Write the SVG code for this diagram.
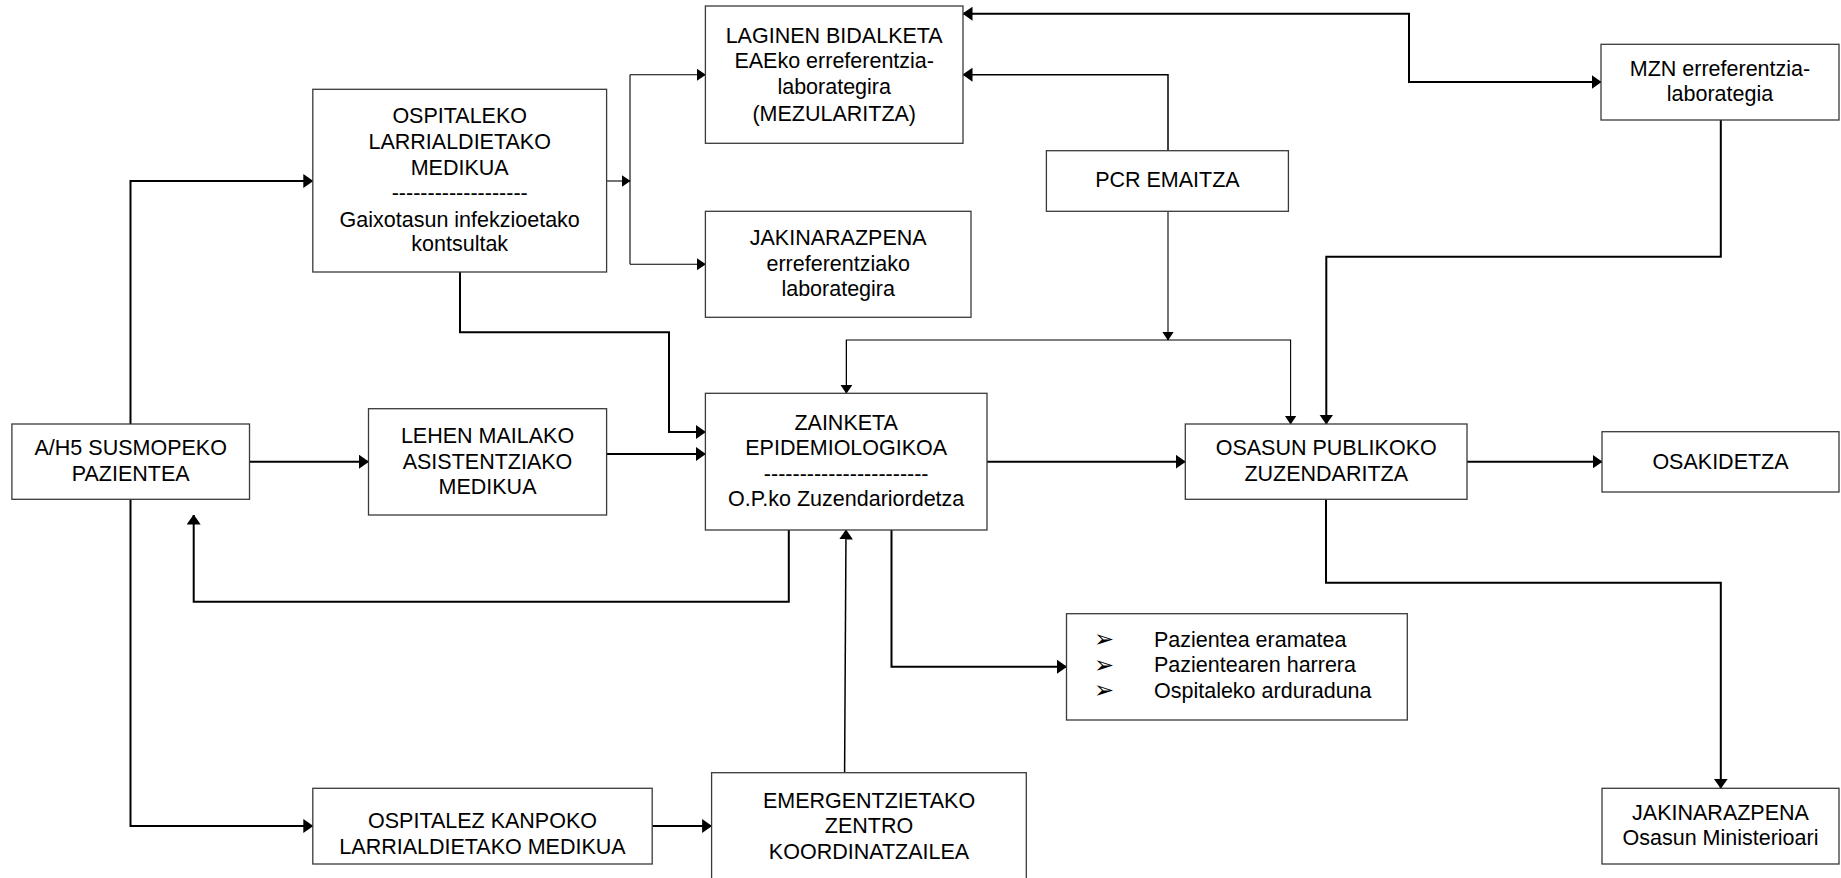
<svg xmlns="http://www.w3.org/2000/svg" width="1841" height="878" viewBox="0 0 1841 878">
<style>
.box{fill:#fff;stroke:#3a3a3a;stroke-width:1.3}
.t{font-family:"Liberation Sans",Arial,sans-serif;font-size:21.5px;fill:#000;text-anchor:middle}
.tl{font-family:"Liberation Sans",Arial,sans-serif;font-size:21.5px;fill:#000}
.bul{font-family:"DejaVu Sans",sans-serif;font-size:24px;fill:#000}
.b{fill:none;stroke:#000;stroke-width:2}
.m{fill:none;stroke:#000;stroke-width:1.5}
.n{fill:none;stroke:#000;stroke-width:1.1}
</style>
<defs>
<marker id="ab" markerUnits="userSpaceOnUse" markerWidth="10" markerHeight="14" refX="9.5" refY="7" orient="auto"><path d="M0,0 L10,7 L0,14 z" fill="#000"/></marker>
<marker id="as" markerUnits="userSpaceOnUse" markerWidth="10" markerHeight="14" refX="0.5" refY="7" orient="auto"><path d="M10,0 L0,7 L10,14 z" fill="#000"/></marker>
<marker id="an" markerUnits="userSpaceOnUse" markerWidth="9" markerHeight="12" refX="8.5" refY="6" orient="auto"><path d="M0,0 L9,6 L0,12 z" fill="#000"/></marker>
</defs>
<rect x="0" y="0" width="1841" height="878" fill="#fff"/>
<g id="connectors">
<path class="b" d="M130.5,424 V181 H312.8" marker-end="url(#ab)"/>
<path class="b" d="M249.5,461.7 H368.5" marker-end="url(#ab)"/>
<path class="b" d="M130.5,499.3 V826 H312.8" marker-end="url(#ab)"/>
<path class="b" d="M606.6,454 H705.4" marker-end="url(#ab)"/>
<path class="b" d="M460,272 V332.3 H669 V432 H705.4" marker-end="url(#ab)"/>
<path class="n" d="M606.6,181 H630" marker-end="url(#an)"/>
<path class="n" d="M630,74.7 V264.3"/>
<path class="n" d="M630,74.7 H705.4" marker-end="url(#an)"/>
<path class="n" d="M630,264.3 H705.4" marker-end="url(#an)"/>
<path class="b" d="M963,13.7 H1409 V82 H1601" marker-start="url(#as)" marker-end="url(#ab)"/>
<path class="m" d="M1168,150.7 V74.7 H963" marker-end="url(#ab)"/>
<path class="n" d="M1168,211.3 V340" marker-end="url(#an)"/>
<path class="n" d="M846.4,393.3 V340 H1290.6 V424" marker-end="url(#an)"/>
<path class="n" d="M846.4,340 V393.3" marker-end="url(#an)"/>
<path class="b" d="M1720.8,120 V256.7 H1326.3 V424" marker-end="url(#ab)"/>
<path class="b" d="M987,461.7 H1185.3" marker-end="url(#ab)"/>
<path class="b" d="M1467,461.7 H1602" marker-end="url(#ab)"/>
<path class="b" d="M1326,499.3 V582.7 H1720.8 V788.3" marker-end="url(#ab)"/>
<path class="b" d="M788.8,530 V601.7 H193.7 V515" marker-end="url(#ab)"/>
<path class="b" d="M891.5,530 V666.7 H1066.5" marker-end="url(#ab)"/>
<path class="b" d="M652.2,826 H711.6" marker-end="url(#ab)"/>
<path class="m" d="M844.6,772.7 L846,530" marker-end="url(#ab)"/>
</g>
<g id="ospitaleko">
<rect class="box" x="312.8" y="89.3" width="293.8" height="182.7"/>
<text class="t" x="459.7" y="122.5">OSPITALEKO</text>
<text class="t" x="459.7" y="148.5">LARRIALDIETAKO</text>
<text class="t" x="459.7" y="174.5">MEDIKUA</text>
<text class="t" x="459.7" y="200">-------------------</text>
<text class="t" x="459.7" y="226.5">Gaixotasun infekzioetako</text>
<text class="t" x="459.7" y="251">kontsultak</text>
</g>
<g id="laginen">
<rect class="box" x="705.4" y="6" width="257.6" height="137.3"/>
<text class="t" x="834.2" y="42.5">LAGINEN BIDALKETA</text>
<text class="t" x="834.2" y="68">EAEko erreferentzia-</text>
<text class="t" x="834.2" y="94">laborategira</text>
<text class="t" x="834.2" y="120.5">(MEZULARITZA)</text>
</g>
<g id="jakinarazpena1">
<rect class="box" x="705.4" y="211.3" width="265.6" height="106"/>
<text class="t" x="838.2" y="245">JAKINARAZPENA</text>
<text class="t" x="838.2" y="271">erreferentziako</text>
<text class="t" x="838.2" y="296">laborategira</text>
</g>
<g id="pcr">
<rect class="box" x="1046.4" y="150.7" width="242" height="60.6"/>
<text class="t" x="1167.4" y="187">PCR EMAITZA</text>
</g>
<g id="mzn">
<rect class="box" x="1601" y="44.3" width="238" height="75.7"/>
<text class="t" x="1720" y="76">MZN erreferentzia-</text>
<text class="t" x="1720" y="101">laborategia</text>
</g>
<g id="ah5">
<rect class="box" x="11.9" y="424" width="237.6" height="75.3"/>
<text class="t" x="130.7" y="455">A/H5 SUSMOPEKO</text>
<text class="t" x="130.7" y="481">PAZIENTEA</text>
</g>
<g id="lehen">
<rect class="box" x="368.5" y="408.7" width="238.1" height="106.3"/>
<text class="t" x="487.5" y="443">LEHEN MAILAKO</text>
<text class="t" x="487.5" y="469">ASISTENTZIAKO</text>
<text class="t" x="487.5" y="494">MEDIKUA</text>
</g>
<g id="zainketa">
<rect class="box" x="705.4" y="393.3" width="281.6" height="136.7"/>
<text class="t" x="846.2" y="429.5">ZAINKETA</text>
<text class="t" x="846.2" y="455">EPIDEMIOLOGIKOA</text>
<text class="t" x="846.2" y="480.5">-----------------------</text>
<text class="t" x="846.2" y="506">O.P.ko Zuzendariordetza</text>
</g>
<g id="osasun">
<rect class="box" x="1185.3" y="424" width="281.7" height="75.3"/>
<text class="t" x="1326.2" y="455">OSASUN PUBLIKOKO</text>
<text class="t" x="1326.2" y="481">ZUZENDARITZA</text>
</g>
<g id="osakidetza">
<rect class="box" x="1602" y="431.7" width="237" height="60.3"/>
<text class="t" x="1720.5" y="468.5">OSAKIDETZA</text>
</g>
<g id="zerrenda">
<rect class="box" x="1066.5" y="613.7" width="340.8" height="106.3"/>
<text class="bul" x="1094" y="647">➢</text>
<text class="bul" x="1094" y="672.5">➢</text>
<text class="bul" x="1094" y="698">➢</text>
<text class="tl" x="1154" y="646.5">Pazientea eramatea</text>
<text class="tl" x="1154" y="672">Pazientearen harrera</text>
<text class="tl" x="1154" y="697.5">Ospitaleko arduraduna</text>
</g>
<g id="ospitalez">
<rect class="box" x="312.8" y="788.3" width="339.4" height="75.7"/>
<text class="t" x="482.5" y="828">OSPITALEZ KANPOKO</text>
<text class="t" x="482.5" y="854">LARRIALDIETAKO MEDIKUA</text>
</g>
<g id="emergentzietako">
<rect class="box" x="711.6" y="772.7" width="314.7" height="106"/>
<text class="t" x="869" y="807.5">EMERGENTZIETAKO</text>
<text class="t" x="869" y="833">ZENTRO</text>
<text class="t" x="869" y="858.5">KOORDINATZAILEA</text>
</g>
<g id="jakinarazpena2">
<rect class="box" x="1602" y="788.3" width="237" height="75.7"/>
<text class="t" x="1720.5" y="820">JAKINARAZPENA</text>
<text class="t" x="1720.5" y="845">Osasun Ministerioari</text>
</g>
</svg>
